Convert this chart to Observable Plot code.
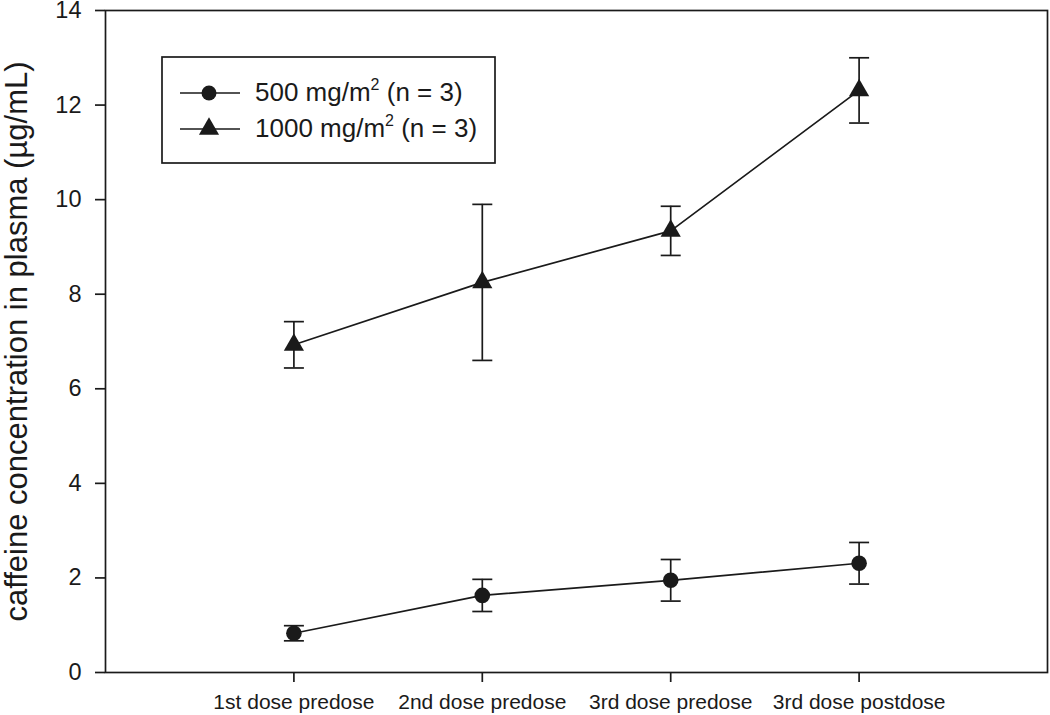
<!DOCTYPE html>
<html>
<head>
<meta charset="utf-8">
<script src="https://cdn.jsdelivr.net/npm/d3@7"></script>
<script src="https://cdn.jsdelivr.net/npm/@observablehq/plot@0.6"></script>
<style>
  body { margin: 0; background: #fff; }
  #wrap { position: relative; width: 1050px; height: 715px; font-family: "Liberation Sans", Arial, sans-serif; }
</style>
</head>
<body>
<div id="wrap"></div>
<script>
const categories = ["1st dose predose", "2nd dose predose", "3rd dose predose", "3rd dose postdose"];
const mean500 = [0.83, 1.63, 1.95, 2.31];
const sd500 = [0.16, 0.34, 0.44, 0.44];
const mean1000 = [6.93, 8.25, 9.34, 12.31];
const sd1000 = [0.49, 1.65, 0.52, 0.69];
const yTicks = [0, 2, 4, 6, 8, 10, 12, 14];
const seriesNames = ["500 mg/m", "1000 mg/m"];
const yLabel = "caffeine concentration in plasma (µg/mL)";

const rows = [];
categories.forEach((c, i) => {
  rows.push({series: "500", pos: i + 1, mean: mean500[i], lo: mean500[i] - sd500[i], hi: mean500[i] + sd500[i]});
});
categories.forEach((c, i) => {
  rows.push({series: "1000", pos: i + 1, mean: mean1000[i], lo: mean1000[i] - sd1000[i], hi: mean1000[i] + sd1000[i]});
});
const r500 = rows.filter(d => d.series === "500");
const r1000 = rows.filter(d => d.series === "1000");

const capSymbol = {
  draw(ctx, size) {
    const w = Math.sqrt(size) / 2;
    ctx.moveTo(-w, 0);
    ctx.lineTo(w, 0);
  }
};
const capR = 20 / Math.sqrt(Math.PI);
const sw = 1.7;
const ink = "#1a1a1a";

const chart = Plot.plot({
  width: 1050,
  height: 715,
  marginLeft: 105,
  marginRight: 3,
  marginTop: 10,
  marginBottom: 43,
  style: {fontFamily: "'Liberation Sans', Arial, sans-serif", color: ink, background: "#fff", overflow: "visible"},
  x: {type: "linear", domain: [0, 5]},
  y: {domain: [0, 14]},
  marks: [
    Plot.frame({stroke: ink, strokeWidth: sw}),
    Plot.axisY({ticks: yTicks, tickSize: 10, tickPadding: 14, fontSize: 23.5, strokeWidth: sw, label: null}),
    Plot.axisX({ticks: [1, 2, 3, 4], tickFormat: i => categories[i - 1], tickSize: 10, tickPadding: 12, fontSize: 21, strokeWidth: sw, label: null}),
    Plot.text([yLabel], {frameAnchor: "left", textAnchor: "middle", rotate: -90, dx: -88, fontSize: 31, fill: ink}),
    Plot.ruleX(rows, {x: "pos", y1: "lo", y2: "hi", stroke: ink, strokeWidth: sw}),
    Plot.dot(rows, {x: "pos", y: "lo", symbol: capSymbol, r: capR, stroke: ink, strokeWidth: sw, fill: "none"}),
    Plot.dot(rows, {x: "pos", y: "hi", symbol: capSymbol, r: capR, stroke: ink, strokeWidth: sw, fill: "none"}),
    Plot.line(r500, {x: "pos", y: "mean", stroke: ink, strokeWidth: sw}),
    Plot.line(r1000, {x: "pos", y: "mean", stroke: ink, strokeWidth: sw}),
    Plot.dot(r500, {x: "pos", y: "mean", symbol: "circle", r: 7.8, fill: ink, stroke: "none"}),
    Plot.dot(r1000, {x: "pos", y: "mean", symbol: "triangle", r: 7.5, fill: ink, stroke: "none"})
  ]
});

const wrap = document.getElementById("wrap");
wrap.appendChild(chart);

// Legend overlay
const leg = d3.select(wrap).append("svg").attr("id", "legend")
  .attr("width", 1050).attr("height", 715)
  .style("position", "absolute").style("left", "0px").style("top", "0px");
leg.append("rect").attr("x", 162).attr("y", 57).attr("width", 333).attr("height", 106)
  .attr("fill", "#fff").attr("stroke", ink).attr("stroke-width", sw);
const legendRows = [
  {name: seriesNames[0], symbol: d3.symbolCircle, size: Math.PI * 56, y: 93},
  {name: seriesNames[1], symbol: d3.symbolTriangle, size: Math.PI * 56, y: 129}
];
legendRows.forEach(r => {
  leg.append("line").attr("x1", 180).attr("x2", 240).attr("y1", r.y).attr("y2", r.y)
    .attr("stroke", ink).attr("stroke-width", sw);
  leg.append("path").attr("d", d3.symbol(r.symbol, r.size)()).attr("transform", `translate(209,${r.y})`)
    .attr("fill", ink);
  const t = leg.append("text").attr("x", 255).attr("y", r.y + 7.5)
    .attr("font-family", "'Liberation Sans', Arial, sans-serif").attr("font-size", 26).attr("fill", ink);
  t.append("tspan").text(r.name);
  t.append("tspan").attr("font-size", 16).attr("dy", -11).text("2");
  t.append("tspan").attr("dy", 11).text(" (n = 3)");
});
</script>
</body>
</html>
